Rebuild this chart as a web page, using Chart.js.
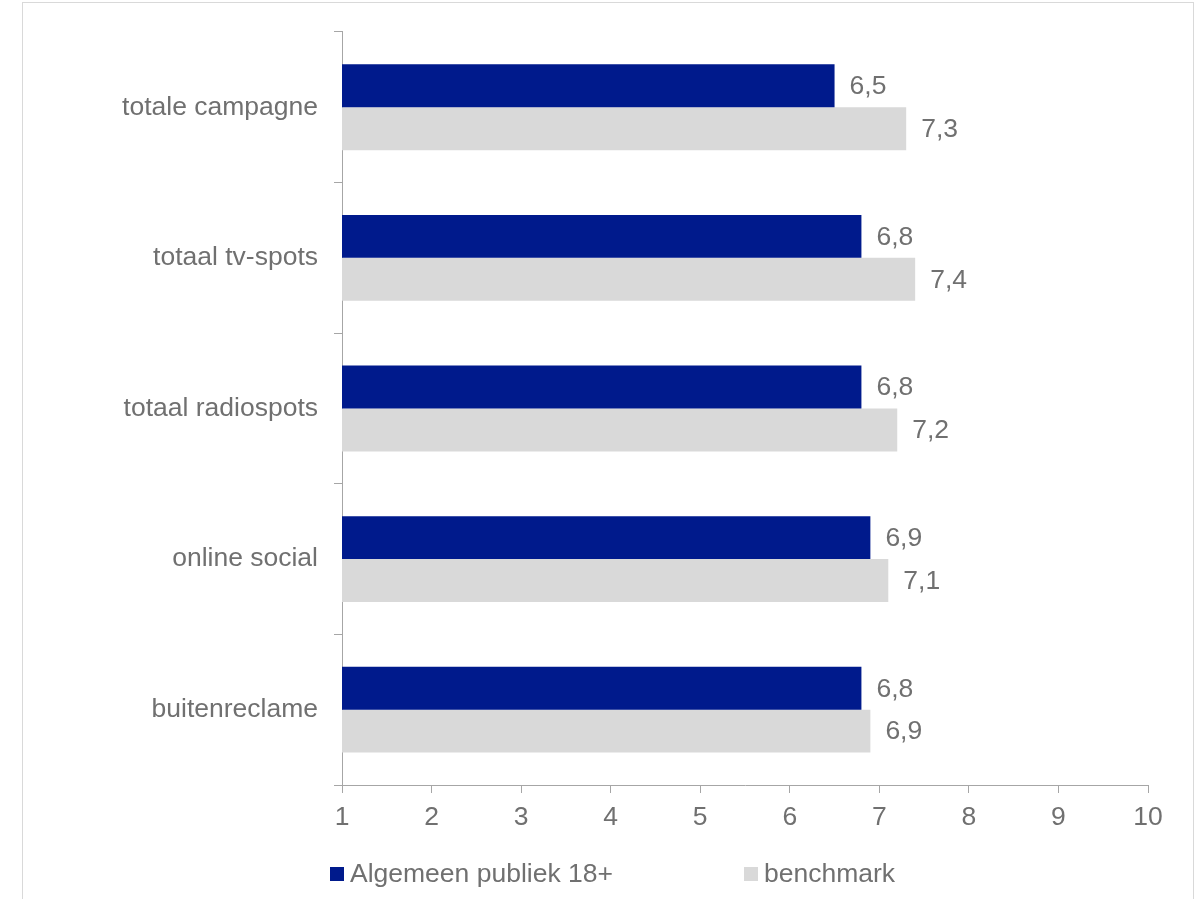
<!DOCTYPE html>
<html lang="nl">
<head>
    <meta charset="UTF-8">
    <title>Waardering campagne</title>
    <script src="https://cdn.jsdelivr.net/npm/chart.js"></script>
    <style>
        body {
            margin: 0;
            padding: 0;
            background-color: #fff;
            overflow: hidden;
        }
        .wrap {
            position: relative;
            width: 1198px;
            height: 899px;
        }
        .frame {
            position: absolute;
            left: 22px;
            top: 2px;
            width: 1172px;
            height: 920px;
            border: 1px solid #d9d9d9;
            box-sizing: border-box;
        }
        canvas {
            position: absolute;
            left: 0;
            top: 0;
        }
    </style>
</head>
<body>
    <div class="wrap">
        <div class="frame"></div>
        <canvas id="scoreChart" width="1198" height="899"></canvas>
    </div>

    <script>
        // Rapportcijfers per onderdeel
        const categories = ['totale campagne', 'totaal tv-spots', 'totaal radiospots', 'online social', 'buitenreclame'];
        const seriesNames = ['Algemeen publiek 18+', 'benchmark'];
        const publiekScores = [6.5, 6.8, 6.8, 6.9, 6.8];
        const benchmarkScores = [7.3, 7.4, 7.2, 7.1, 6.9];
        const xTicks = [1, 2, 3, 4, 5, 6, 7, 8, 9, 10];

        const textColor = '#707070';
        const axisColor = '#a6a6a6';
        const fontFamily = '"Liberation Sans", Arial, sans-serif';
        const fontSize = 26.5;

        // Waarde naast elke balk, met komma als decimaalteken
        const valueLabels = {
            id: 'valueLabels',
            afterDatasetsDraw(chart) {
                const ctx = chart.ctx;
                ctx.save();
                ctx.font = fontSize + 'px ' + fontFamily;
                ctx.fillStyle = textColor;
                ctx.textAlign = 'left';
                ctx.textBaseline = 'middle';
                chart.data.datasets.forEach((ds, i) => {
                    chart.getDatasetMeta(i).data.forEach((bar, j) => {
                        const txt = ds.data[j].toFixed(1).replace('.', ',');
                        ctx.fillText(txt, bar.x + 15, bar.y + 1);
                    });
                });
                ctx.restore();
            }
        };

        // Legenda onderaan, twee losse items
        const bottomLegend = {
            id: 'bottomLegend',
            afterDraw(chart) {
                const ctx = chart.ctx;
                const itemX = [330, 744];
                ctx.save();
                ctx.font = fontSize + 'px ' + fontFamily;
                ctx.textAlign = 'left';
                ctx.textBaseline = 'alphabetic';
                chart.data.datasets.forEach((ds, i) => {
                    ctx.fillStyle = ds.backgroundColor;
                    ctx.fillRect(itemX[i], 867, 14, 14);
                    ctx.fillStyle = textColor;
                    ctx.fillText(ds.label, itemX[i] + 20, 882);
                });
                ctx.restore();
            }
        };

        const ctxScore = document.getElementById('scoreChart').getContext('2d');
        const scoreChart = new Chart(ctxScore, {
            type: 'bar',
            data: {
                labels: categories,
                datasets: [{
                    label: seriesNames[0],
                    data: publiekScores,
                    backgroundColor: '#001a8c',
                    categoryPercentage: 0.57,
                    barPercentage: 1.0
                }, {
                    label: seriesNames[1],
                    data: benchmarkScores,
                    backgroundColor: '#d9d9d9',
                    categoryPercentage: 0.57,
                    barPercentage: 1.0
                }]
            },
            options: {
                responsive: false,
                animation: false,
                indexAxis: 'y',
                layout: {
                    padding: { top: 29, right: 50, bottom: 0, left: 0 }
                },
                plugins: {
                    legend: { display: false },
                    tooltip: { enabled: false }
                },
                scales: {
                    x: {
                        type: 'linear',
                        min: xTicks[0],
                        max: xTicks[xTicks.length - 1],
                        afterBuildTicks(scale) {
                            scale.ticks = xTicks.map(v => ({ value: v }));
                        },
                        afterFit(scale) {
                            scale.height = 114;
                        },
                        grid: {
                            drawOnChartArea: false,
                            drawTicks: true,
                            tickLength: 8,
                            color: axisColor
                        },
                        border: { display: true, color: axisColor, width: 1 },
                        ticks: {
                            color: textColor,
                            padding: 9,
                            maxRotation: 0,
                            font: { family: fontFamily, size: fontSize }
                        }
                    },
                    y: {
                        afterFit(scale) {
                            scale.width = 342;
                        },
                        grid: {
                            offset: true,
                            drawOnChartArea: false,
                            drawTicks: true,
                            tickLength: 8,
                            color: axisColor
                        },
                        border: { display: true, color: axisColor, width: 1 },
                        ticks: {
                            color: textColor,
                            padding: 16,
                            font: { family: fontFamily, size: fontSize }
                        }
                    }
                }
            },
            plugins: [valueLabels, bottomLegend]
        });
    </script>
</body>
</html>
